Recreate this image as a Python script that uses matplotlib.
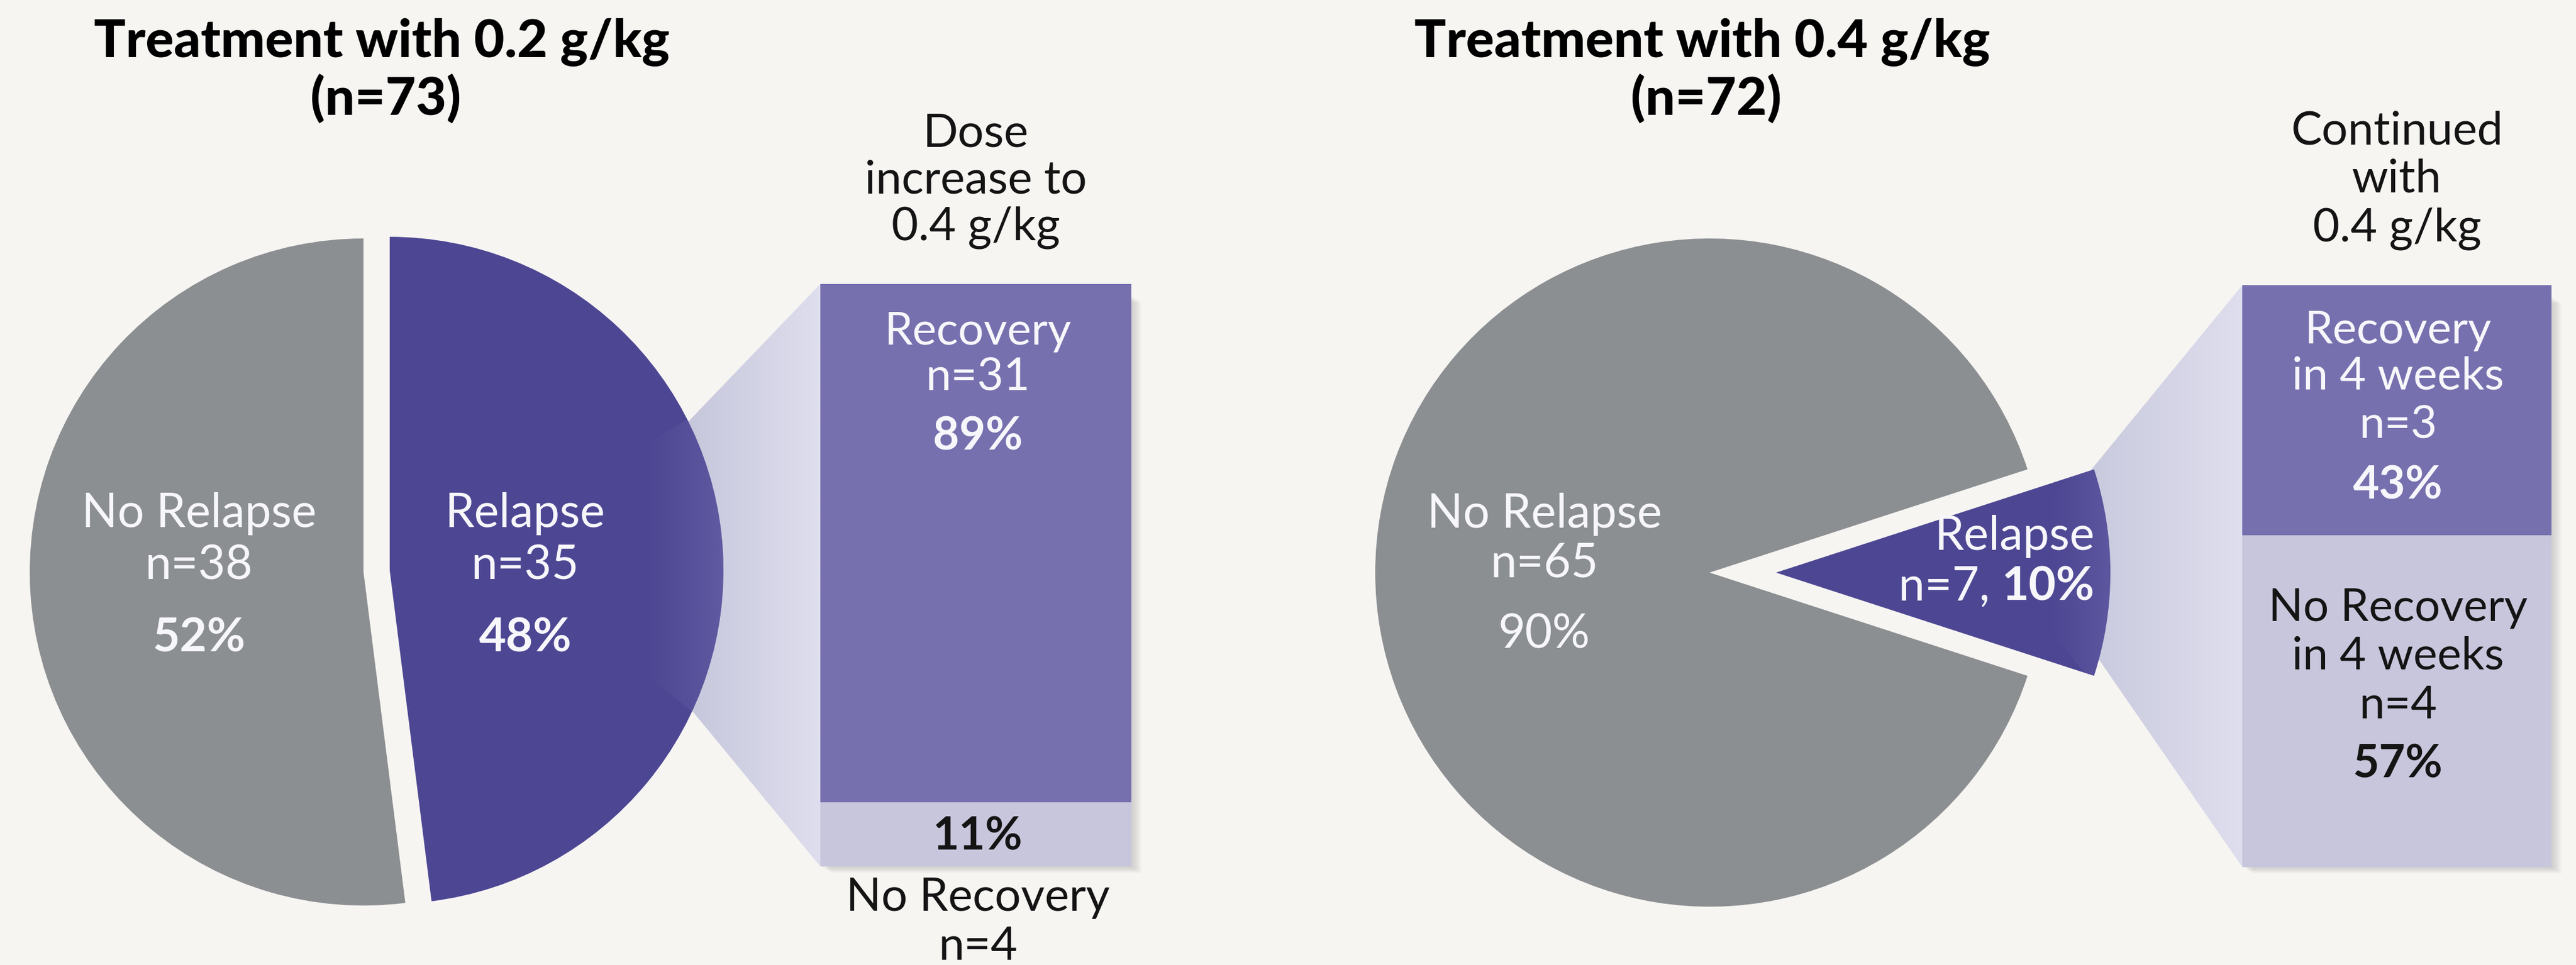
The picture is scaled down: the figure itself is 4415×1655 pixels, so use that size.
import numpy as np
import matplotlib
matplotlib.use("Agg")
import matplotlib.pyplot as plt
from matplotlib.colors import LinearSegmentedColormap, to_rgb
from matplotlib.patches import Polygon, Rectangle
from matplotlib.path import Path

W, H = 4415, 1655
BG = "#f7f5f2"
GREY = "#8c8f92"
INDIGO = "#4d4793"
VIOLET = "#7670ae"
LILAC = "#c8c6dc"
WHITE = "#f7f7fb"
INK = "#141414"
FONT = ["Lato", "DejaVu Sans"]

# 0.2 g/kg arm
low_title = ["Treatment with 0.2 g/kg", "(n=73)"]
low_pie_labels = ["Relapse", "No Relapse"]
low_pie_n = [35, 38]
low_pie_pct = [48, 52]
low_head = ["Dose", "increase to", "0.4 g/kg"]
low_bar_labels = ["Recovery", "No Recovery"]
low_bar_n = [31, 4]
low_bar_pct = [89, 11]

# 0.4 g/kg arm
high_title = ["Treatment with 0.4 g/kg", "(n=72)"]
high_pie_labels = ["Relapse", "No Relapse"]
high_pie_n = [7, 65]
high_pie_pct = [10, 90]
high_head = ["Continued", "with", "0.4 g/kg"]
high_bar_labels = ["Recovery\nin 4 weeks", "No Recovery\nin 4 weeks"]
high_bar_n = [3, 4]
high_bar_pct = [43, 57]

fig = plt.figure(figsize=(W / 100, H / 100), dpi=100, facecolor=BG)
ax = fig.add_axes([0, 0, 1, 1])
ax.set_facecolor(BG)


def Y(v):
    # layout is measured from the top edge, data runs bottom-up
    return H - v


def say(x, y, s, size=58, color=WHITE, weight="normal", ha="center"):
    return ax.text(x, Y(y), s, fontsize=size, color=color, fontweight=weight,
                   ha=ha, va="baseline", family=FONT, zorder=6)


def draw_pie(pct, cx, cy, r, shift, start):
    # pie's explode is in data units once radius != 1
    wedges, _ = ax.pie(pct, colors=[INDIGO, GREY], startangle=start,
                       counterclock=False, explode=[shift, 0],
                       center=(cx, Y(cy)), radius=r, frame=True,
                       wedgeprops=dict(linewidth=0))
    for w in wedges:
        w.set_zorder(2)
    return wedges


def draw_link(pts, c0, c1):
    xy = [(x, Y(y)) for x, y in pts]
    poly = Polygon(xy, closed=True, facecolor="none", edgecolor="none")
    ax.add_patch(poly)
    xs = [p[0] for p in xy]
    ys = [p[1] for p in xy]
    cmap = LinearSegmentedColormap.from_list("link", [c0, c1])
    im = ax.imshow(np.linspace(0, 1, 256)[None, :], cmap=cmap,
                   extent=(min(xs), max(xs), min(ys), max(ys)),
                   aspect="auto", interpolation="bilinear", zorder=1)
    im.set_clip_path(poly)


def glow(wedge, pts, x0, x1, peak=0.3):
    # lighter band on the slice where the link fans out of it
    xy = np.array([(x, Y(y)) for x, y in pts])
    y0, y1 = xy[:, 1].min(), xy[:, 1].max()
    gx = np.linspace(x0, x1, 160)
    gy = np.linspace(y0, y1, 400)
    XX, YY = np.meshgrid(gx, gy)
    inside = Path(xy).contains_points(np.c_[XX.ravel(), YY.ravel()]).reshape(XX.shape)
    ramp = np.clip((XX - x0) / (x1 - x0), 0, 1) ** 1.4
    img = np.zeros(XX.shape + (4,))
    img[..., :3] = to_rgb("#8f8bc8")
    img[..., 3] = ramp * inside * peak
    im = ax.imshow(img, extent=(x0, x1, y0, y1), origin="lower",
                   aspect="auto", interpolation="bilinear", zorder=3)
    im.set_clip_path(wedge)


def draw_bar(x0, x1, top, bottom, pct):
    span = bottom - top
    width = x1 - x0
    xc = (x0 + x1) / 2
    # soft drop shadow on the right / lower side
    for i in range(1, 9):
        ax.add_patch(Rectangle((x0 + 2.2 * i, Y(bottom) - 1.4 * i), width, span - 20,
                               facecolor="#6e6e6e", alpha=0.035, linewidth=0, zorder=2))
    lo = span * pct[1] / 100
    hi = span * pct[0] / 100
    ax.bar([xc, xc], [hi, lo], width=width, bottom=[Y(bottom) + lo, Y(bottom)],
           color=[VIOLET, LILAC], linewidth=0, zorder=4)
    return Y(bottom) + lo


# ---- left: 0.2 g/kg ------------------------------------------------------
lw = draw_pie(low_pie_pct, 623, 981, 572, 45, 90)
draw_link([(1150, 754), (1406, 487), (1406, 1486), (1150, 1175)], "#c4c4da", "#dedeee")
glow(lw[0], [(1090, 772), (1191, 711), (1300, 600), (1300, 1340), (1191, 1225), (1090, 1145)],
     1090, 1245)
draw_bar(1406, 1939, 487, 1486, low_bar_pct)

say(654, 98, low_title[0], size=65, color="black", weight="black")
say(661, 197, low_title[1], size=65, color="black", weight="black")
for txt, yb in zip(low_head, [252, 332, 411]):
    say(1672, yb, txt, size=57, color=INK)

say(341, 904, low_pie_labels[1])
say(341, 993, f"n={low_pie_n[1]}")
say(341, 1117, f"{low_pie_pct[1]}%", weight="bold")
say(900, 904, low_pie_labels[0])
say(900, 993, f"n={low_pie_n[0]}")
say(900, 1117, f"{low_pie_pct[0]}%", weight="bold")

say(1676, 590, low_bar_labels[0], size=56)
say(1676, 670, f"n={low_bar_n[0]}", size=56)
say(1676, 772, f"{low_bar_pct[0]}%", size=56, weight="bold")
say(1676, 1458, f"{low_bar_pct[1]}%", size=56, color=INK, weight="bold")
say(1676, 1562, low_bar_labels[1], size=57, color=INK)
say(1676, 1646, f"n={low_bar_n[1]}", size=57, color=INK)

# ---- right: 0.4 g/kg -----------------------------------------------------
rw = draw_pie(high_pie_pct, 2930, 982, 573, 114, high_pie_pct[0] * 3.6 / 2)
draw_link([(3560, 835), (3843, 489), (3843, 1487), (3560, 1077)], "#c8c8dd", "#dedeee")
glow(rw[0], [(3480, 890), (3843, 489), (3843, 1487), (3480, 1040)], 3500, 3620, peak=0.25)
draw_bar(3843, 4373, 489, 1487, high_bar_pct)

say(2917, 98, high_title[0], size=65, color="black", weight="black")
say(2924, 197, high_title[1], size=65, color="black", weight="black")
for txt, yb in zip(high_head, [248, 330, 413]):
    say(4108, yb, txt, size=57, color=INK)

say(2647, 905, high_pie_labels[1])
say(2647, 989, f"n={high_pie_n[1]}")
say(2647, 1112, f"{high_pie_pct[1]}%")

say(3590, 943, high_pie_labels[0], ha="right")
pct_txt = say(3590, 1030, f"{high_pie_pct[0]}%", weight="bold", ha="right")
fig.canvas.draw()
pw = pct_txt.get_window_extent().width
say(3590 - pw, 1030, f"n={high_pie_n[0]}, ", ha="right")

rec, norec = high_bar_labels[0].split("\n"), high_bar_labels[1].split("\n")
for txt, yb in zip(rec + [f"n={high_bar_n[0]}"], [588, 668, 752]):
    say(4110, yb, txt, size=56)
say(4110, 856, f"{high_bar_pct[0]}%", size=56, weight="bold")
for txt, yb in zip(norec + [f"n={high_bar_n[1]}"], [1065, 1148, 1232]):
    say(4110, yb, txt, size=56, color=INK)
say(4110, 1334, f"{high_bar_pct[1]}%", size=56, color=INK, weight="bold")

ax.set_xlim(0, W)
ax.set_ylim(0, H)
ax.set_aspect("auto")
ax.axis("off")
fig.savefig("out.png", dpi=100, facecolor=BG)
